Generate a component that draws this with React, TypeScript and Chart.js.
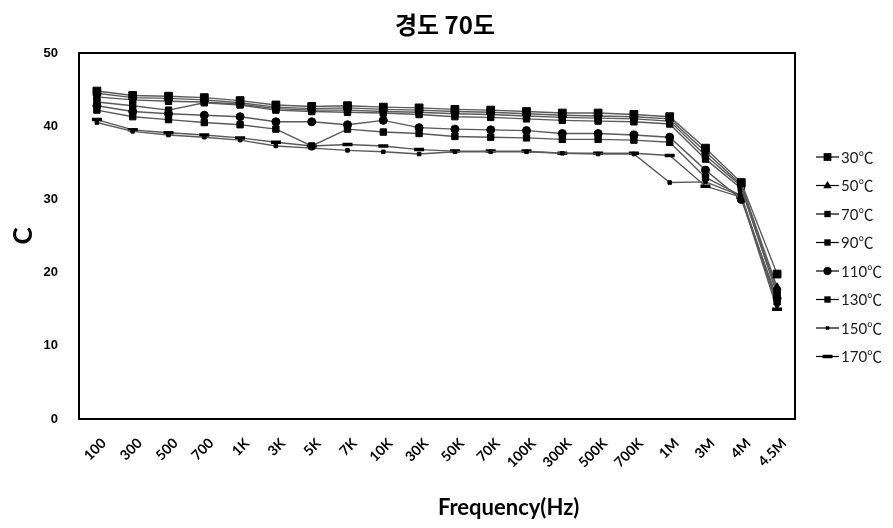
import React, { useEffect, useRef } from "react";
import { Chart, registerables } from "chart.js";

Chart.register(...registerables);

const chartTitle = "경도 70도";
const xTitle = "Frequency(Hz)";
const yTitle = "C";

const categories = [
  "100", "300", "500", "700", "1K", "3K", "5K", "7K", "10K", "30K",
  "50K", "70K", "100K", "300K", "500K", "700K", "1M", "3M", "4M", "4.5M",
];

const yTicks = [0, 10, 20, 30, 40, 50];

const seriesLabels = ["30℃", "50℃", "70℃", "90℃", "110℃", "130℃", "150℃", "170℃"];

const c30 = [44.8, 44.2, 44.1, 43.9, 43.5, 42.9, 42.7, 42.8, 42.6, 42.5, 42.3, 42.2, 42.0, 41.8, 41.8, 41.6, 41.3, 37.0, 32.3, 19.8];
const c50 = [44.5, 43.9, 43.8, 43.6, 43.2, 42.6, 42.4, 42.5, 42.3, 42.2, 42.0, 41.9, 41.7, 41.5, 41.4, 41.3, 41.0, 36.5, 32.0, 18.0];
const c70 = [44.0, 43.6, 43.4, 43.3, 43.0, 42.4, 42.2, 42.2, 42.0, 41.9, 41.7, 41.6, 41.4, 41.2, 41.1, 41.0, 40.7, 36.0, 31.8, 17.5];
const c90 = [43.3, 42.8, 42.2, 43.2, 42.9, 42.2, 42.0, 41.9, 41.8, 41.6, 41.3, 41.2, 41.0, 40.8, 40.7, 40.6, 40.3, 35.5, 31.5, 17.0];
const c110 = [42.8, 42.0, 41.7, 41.5, 41.3, 40.6, 40.6, 40.2, 40.8, 39.8, 39.6, 39.5, 39.4, 39.0, 39.0, 38.8, 38.5, 34.0, 30.0, 16.5];
const c130 = [42.2, 41.3, 40.9, 40.5, 40.2, 39.6, 37.3, 39.6, 39.2, 39.0, 38.6, 38.5, 38.4, 38.2, 38.2, 38.1, 37.8, 33.0, 30.5, 16.0];
const c150 = [40.5, 39.3, 38.8, 38.5, 38.1, 37.3, 37.0, 36.7, 36.5, 36.2, 36.5, 36.5, 36.5, 36.3, 36.2, 36.2, 32.3, 32.4, 30.5, 15.5];
const c170 = [40.9, 39.5, 39.1, 38.8, 38.4, 37.8, 37.3, 37.5, 37.3, 36.8, 36.6, 36.6, 36.6, 36.3, 36.3, 36.3, 36.0, 31.8, 30.3, 15.0];

const seriesValues = [c30, c50, c70, c90, c110, c130, c150, c170];

const markerStyles: { style: any; radius: number; width: number }[] = [
  { style: "rect", radius: 5.5, width: 1 },
  { style: "triangle", radius: 4.5, width: 1 },
  { style: "rect", radius: 4.5, width: 1 },
  { style: "rect", radius: 4.5, width: 1 },
  { style: "circle", radius: 4, width: 1 },
  { style: "rect", radius: 4.5, width: 1 },
  { style: "rect", radius: 2.5, width: 1 },
  { style: "line", radius: 5, width: 3.5 },
];

const LINE_COLOR = "#5a5a5a";
const MARK_COLOR = "#000000";

function drawMarker(ctx: CanvasRenderingContext2D, style: string, r: number, x: number, y: number, w: number) {
  ctx.beginPath();
  if (style === "rect") {
    const s = Math.SQRT1_2 * r;
    ctx.rect(x - s, y - s, 2 * s, 2 * s);
    ctx.fill();
  } else if (style === "circle") {
    ctx.arc(x, y, r, 0, Math.PI * 2);
    ctx.fill();
  } else if (style === "triangle") {
    ctx.moveTo(x, y - r);
    ctx.lineTo(x + r * 0.95, y + r * 0.6);
    ctx.lineTo(x - r * 0.95, y + r * 0.6);
    ctx.closePath();
    ctx.fill();
  } else if (style === "line") {
    ctx.lineWidth = w;
    ctx.moveTo(x - r, y);
    ctx.lineTo(x + r, y);
    ctx.stroke();
  }
}

const decorPlugin = {
  id: "decor",
  beforeDatasetsDraw(chart: any) {
    const { ctx, chartArea } = chart;
    ctx.save();
    ctx.strokeStyle = "#000";
    ctx.lineWidth = 2;
    ctx.strokeRect(chartArea.left, chartArea.top, chartArea.right - chartArea.left, chartArea.bottom - chartArea.top);
    ctx.restore();
  },
  afterDraw(chart: any) {
    const { ctx, chartArea } = chart;
    ctx.save();
    // title
    ctx.fillStyle = "#000";
    ctx.font = "bold 24px 'Noto Sans CJK KR', sans-serif";
    ctx.textAlign = "center";
    ctx.textBaseline = "middle";
    ctx.fillText(chartTitle, 437, 17);
    // x axis title
    ctx.font = "bold 22px Lato, 'Open Sans', sans-serif";
    ctx.fillText(xTitle, chartArea.left + (chartArea.right - chartArea.left) * 0.6, 500);
    // legend
    const x0 = chartArea.right + 21;
    const y0 = 149;
    const step = 28.5;
    chart.data.datasets.forEach((ds: any, i: number) => {
      const y = y0 + i * step;
      ctx.strokeStyle = "#000";
      ctx.lineWidth = 1.2;
      ctx.beginPath();
      ctx.moveTo(x0, y);
      ctx.lineTo(x0 + 23, y);
      ctx.stroke();
      const ms = markerStyles[i];
      ctx.fillStyle = "#000";
      ctx.strokeStyle = "#000";
      drawMarker(ctx, ms.style, ms.radius, x0 + 11.5, y, ms.width);
      ctx.fillStyle = "#1a1a1a";
      ctx.font = "15px Lato, 'Noto Sans CJK KR', sans-serif";
      ctx.textAlign = "left";
      ctx.textBaseline = "middle";
      ctx.fillText(ds.label, x0 + 25, y + 1);
    });
    ctx.restore();
  },
};

export default function App() {
  const ref = useRef<HTMLCanvasElement | null>(null);

  useEffect(() => {
    if (!ref.current) return;
    const datasets = seriesLabels.map((label, i) => ({
      label,
      data: seriesValues[i],
      borderColor: LINE_COLOR,
      borderWidth: 1.4,
      backgroundColor: MARK_COLOR,
      pointBackgroundColor: MARK_COLOR,
      pointBorderColor: MARK_COLOR,
      pointStyle: markerStyles[i].style,
      pointRadius: markerStyles[i].radius,
      pointBorderWidth: markerStyles[i].width,
      tension: 0,
      fill: false,
    }));

    const chart = new Chart(ref.current, {
      type: "line",
      data: { labels: categories, datasets },
      options: {
        animation: false,
        responsive: true,
        maintainAspectRatio: false,
        layout: { padding: { top: 45, right: 90, left: 0, bottom: 0 } },
        plugins: {
          legend: { display: false },
          title: { display: false },
          tooltip: { enabled: false },
        },
        scales: {
          x: {
            offset: true,
            grid: { display: false, drawTicks: false },
            border: { display: false },
            ticks: {
              autoSkip: false,
              maxRotation: 45,
              minRotation: 45,
              padding: 16,
              labelOffset: 7,
              color: "#000",
              font: { family: "Lato, 'Open Sans', sans-serif", size: 14, weight: "bold" },
            },
            afterFit(scale: any) {
              scale.height = 101;
            },
          },
          y: {
            min: 0,
            max: 50,
            grid: { display: false, drawTicks: false },
            border: { display: false },
            afterBuildTicks(scale: any) {
              scale.ticks = yTicks.map((v) => ({ value: v }));
            },
            ticks: {
              padding: 21,
              color: "#000",
              font: { family: "'Liberation Sans', Arial, sans-serif", size: 13, weight: "bold" },
            },
            title: {
              display: true,
              text: yTitle,
              color: "#000",
              padding: { top: 0, bottom: 0 },
              font: { family: "Lato, 'Open Sans', sans-serif", size: 26, weight: "bold" },
            },
            afterFit(scale: any) {
              scale.width = 71;
            },
          },
        },
      },
      plugins: [decorPlugin],
    } as any);

    return () => chart.destroy();
  }, []);

  return (
    <div style={{ width: 877, height: 512, position: "relative" }}>
      <canvas ref={ref} />
    </div>
  );
}
